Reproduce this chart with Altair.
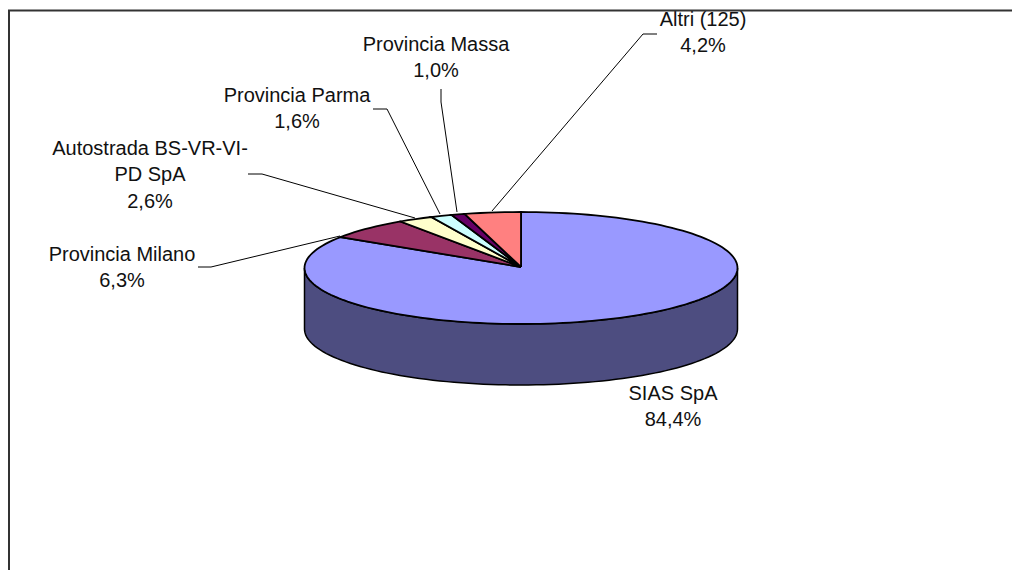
import math
import altair as alt
import pandas as pd

names = ["SIAS SpA", "Provincia Milano", "Autostrada BS-VR-VI-\nPD SpA", "Provincia Parma", "Provincia Massa", "Altri (125)"]
values = [84.4, 6.3, 2.6, 1.6, 1.0, 4.2]
colors = ["#9999FF", "#993366", "#FFFFCC", "#CCFFFF", "#660066", "#FF8080"]
wall_color = "#4D4D80"
label_x = [673, 122, 150, 297, 436, 703]
label_y = [393.5, 254.5, 148.5, 95.5, 44.5, 19.5]
leaders = [
    [],
    [(198, 267), (211, 267), (340, 236)],
    [(248, 174), (262, 174), (415, 218)],
    [(373, 109), (387, 109), (440, 214)],
    [(441, 89), (441, 102), (457, 212)],
    [(657, 34), (643, 34), (492, 211)],
]
CX, CY, RX, RY, DEPTH = 521, 268, 216.5, 56, 61
APEX_Y = 267
W, H = 1004, 562

x_scale = alt.Scale(domain=[8, 1012], range=[0, W], nice=False, zero=False)
y_scale = alt.Scale(domain=[8, 570], range=[0, H], nice=False, zero=False)
X = alt.X("x:Q", scale=x_scale, axis=None)
Y = alt.Y("y:Q", scale=y_scale, axis=None)


def ell(deg, dy=0):
    r = math.radians(deg)
    return CX + RX * math.sin(r), CY - RY * math.cos(r) + dy


slice_rows = []
total = sum(values)
start = 0.0
for i, v in enumerate(values):
    sweep = v / total * 360
    pts = [(CX, APEX_Y)]
    n = max(2, int(sweep / 2))
    for k in range(n + 1):
        pts.append(ell(start + sweep * k / n))
    pts.append((CX, APEX_Y))
    for j, (px, py) in enumerate(pts):
        slice_rows.append({"s": i, "o": j, "x": px, "y": py})
    start += sweep

wall_rows = []
o = 0
for a in range(90, 271, 2):
    px, py = ell(a)
    wall_rows.append({"o": o, "x": px, "y": py})
    o += 1
for a in range(270, 89, -2):
    px, py = ell(a, DEPTH)
    wall_rows.append({"o": o, "x": px, "y": py})
    o += 1
wall_rows.append({"o": o, "x": wall_rows[0]["x"], "y": wall_rows[0]["y"]})

leader_rows = []
for i, path in enumerate(leaders):
    for j, (px, py) in enumerate(path):
        leader_rows.append({"s": i, "o": j, "x": px, "y": py})

label_rows = [
    {"x": lx, "y": ly, "t": n + "\n" + f"{v:.1f}".replace(".", ",") + "%"}
    for n, v, lx, ly in zip(names, values, label_x, label_y)
]

wall = alt.Chart(pd.DataFrame(wall_rows)).mark_line(
    filled=True, fill=wall_color, stroke="black", strokeWidth=1.5
).encode(x=X, y=Y, order="o:Q")

slices = alt.Chart(pd.DataFrame(slice_rows)).mark_line(
    filled=True, stroke="black", strokeWidth=1.8
).encode(
    x=X, y=Y, order="o:Q", detail="s:N",
    fill=alt.Fill("s:N", scale=alt.Scale(domain=list(range(len(colors))), range=colors), legend=None),
)

lead = alt.Chart(pd.DataFrame(leader_rows)).mark_line(color="black", strokeWidth=1).encode(
    x=X, y=Y, order="o:Q", detail="s:N"
)

labels = alt.Chart(pd.DataFrame(label_rows)).mark_text(
    font="Liberation Sans", fontSize=20, color="#111111", align="center", baseline="middle",
    lineBreak="\n", lineHeight=26.5,
).encode(x=X, y=Y, text="t:N")

mask = alt.Chart(pd.DataFrame({"x": [8], "x2": [1012], "y": [8], "y2": [10]})).mark_rect(
    color="white"
).encode(x=X, x2="x2:Q", y=Y, y2="y2:Q")

border = alt.Chart(pd.DataFrame({"x": [1012, 9, 9], "y": [10.5, 10.5, 570], "o": [0, 1, 2]})).mark_line(
    color="#333333", strokeWidth=2
).encode(x=X, y=Y, order="o:Q")

chart = alt.layer(wall, slices, lead, labels, mask, border).properties(
    width=W, height=H, padding=0, autosize=alt.AutoSizeParams(type="none")
).configure_view(stroke=None)

chart.save("out.html", embed_options={"renderer": "svg", "actions": False})
